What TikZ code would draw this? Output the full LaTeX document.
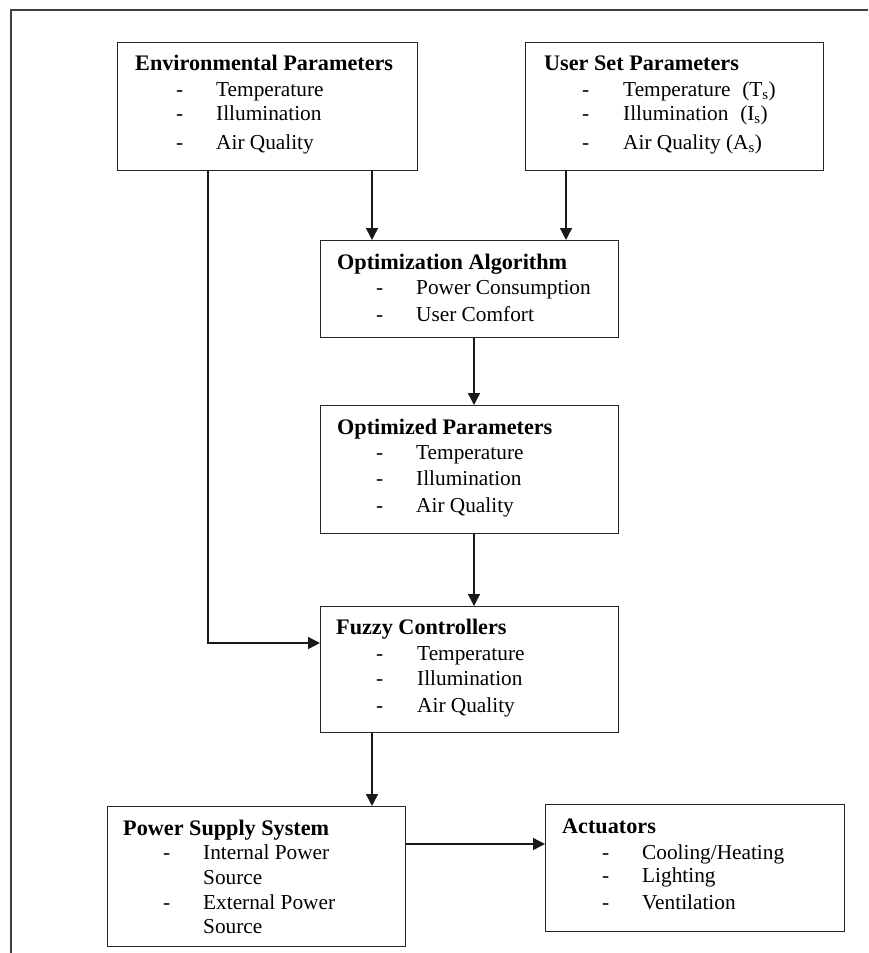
\documentclass[tikz,border=0pt]{standalone}
\usepackage{fontspec}
\setmainfont{Liberation Serif}
\usetikzlibrary{arrows.meta}
\tikzset{
  box/.style={draw=black!85, line width=1.4pt, anchor=north west, inner sep=0pt},
  txt/.style={anchor=base west, inner sep=0pt, font=\fontsize{21.3}{25}\selectfont, text=black},
  ttl/.style={txt, font=\fontsize{22.2}{26}\selectfont\bfseries},
  arr/.style={line width=1.4pt, draw=black!90, -{Triangle[length=12pt,width=12pt]}},
  frame/.style={line width=1.6pt, draw=black!75}
}
\begin{document}
\begin{tikzpicture}[x=1pt,y=-1pt]
\useasboundingbox (0,0) rectangle (868,953);
% outer frame
\coordinate (fa) at (868,10);
\coordinate (fb) at (11,10);
\coordinate (fc) at (11,953);
\draw[frame] (fa) -- (fb) -- (fc);

% boxes
\node[box, minimum width=300pt, minimum height=128pt] (env) at (117,42) {};
\node[box, minimum width=298pt, minimum height=128pt] (user) at (525,42) {};
\node[box, minimum width=298pt, minimum height=97pt] (opt) at (320,240) {};
\node[box, minimum width=298pt, minimum height=128pt] (optp) at (320,405) {};
\node[box, minimum width=298pt, minimum height=126pt] (fuzzy) at (320,606) {};
\node[box, minimum width=298pt, minimum height=140pt] (power) at (107,806) {};
\node[box, minimum width=299pt, minimum height=127pt] (act) at (545,804) {};

% Environmental Parameters
\node[ttl] (envt) at (135,70) {Environmental Parameters};
\node[txt] (envd1) at (176,96) {-};
\node[txt] (envi1) at (216,96) {Temperature};
\node[txt] (envd2) at (176,120) {-};
\node[txt] (envi2) at (216,120) {Illumination};
\node[txt] (envd3) at (176,149) {-};
\node[txt] (envi3) at (216,149) {Air Quality};

% User Set Parameters
\node[ttl] (usert) at (544,70) {User Set Parameters};
\node[txt] (userd1) at (582,96) {-};
\node[txt] (useri1) at (623,96) {Temperature\hspace{0.3em} (T\textsubscript{s})};
\node[txt] (userd2) at (582,120) {-};
\node[txt] (useri2) at (623,120) {Illumination\hspace{0.3em} (I\textsubscript{s})};
\node[txt] (userd3) at (582,149) {-};
\node[txt] (useri3) at (623,149) {Air Quality (A\textsubscript{s})};

% Optimization Algorithm
\node[ttl] (optt) at (337,269) {Optimization Algorithm};
\node[txt] (optd1) at (376,294) {-};
\node[txt] (opti1) at (416,294) {Power Consumption};
\node[txt] (optd2) at (376,321) {-};
\node[txt] (opti2) at (416,321) {User Comfort};

% Optimized Parameters
\node[ttl] (optpt) at (337,434) {Optimized Parameters};
\node[txt] (optpd1) at (376,459) {-};
\node[txt] (optpi1) at (416,459) {Temperature};
\node[txt] (optpd2) at (376,485) {-};
\node[txt] (optpi2) at (416,485) {Illumination};
\node[txt] (optpd3) at (376,512) {-};
\node[txt] (optpi3) at (416,512) {Air Quality};

% Fuzzy Controllers
\node[ttl] (fuzt) at (336,634) {Fuzzy Controllers};
\node[txt] (fuzd1) at (376,660) {-};
\node[txt] (fuzi1) at (417,660) {Temperature};
\node[txt] (fuzd2) at (376,685) {-};
\node[txt] (fuzi2) at (417,685) {Illumination};
\node[txt] (fuzd3) at (376,712) {-};
\node[txt] (fuzi3) at (417,712) {Air Quality};

% Power Supply System
\node[ttl] (powt) at (123,835) {Power Supply System};
\node[txt] (powd1) at (163,859) {-};
\node[txt] (powi1) at (203,859) {Internal Power};
\node[txt] (powi1b) at (203,884) {Source};
\node[txt] (powd2) at (163,909) {-};
\node[txt] (powi2) at (203,909) {External Power};
\node[txt] (powi2b) at (203,933) {Source};

% Actuators
\node[ttl] (actt) at (562,833) {Actuators};
\node[txt] (actd1) at (602,859) {-};
\node[txt] (acti1) at (642,859) {Cooling/Heating};
\node[txt] (actd2) at (602,882) {-};
\node[txt] (acti2) at (642,882) {Lighting};
\node[txt] (actd3) at (602,909) {-};
\node[txt] (acti3) at (642,909) {Ventilation};

% connectors
\coordinate (c1) at (372,0);
\coordinate (c2) at (566,0);
\coordinate (c3) at (474,0);
\coordinate (c4) at (208,643);
\coordinate (c5) at (372,0);
\coordinate (c6) at (0,844);
\draw[arr] (env.south -| c1) -- (opt.north -| c1);
\draw[arr] (user.south -| c2) -- (opt.north -| c2);
\draw[arr] (opt.south -| c3) -- (optp.north -| c3);
\draw[arr] (optp.south -| c3) -- (fuzzy.north -| c3);
\draw[arr] (env.south -| c4) |- (fuzzy.west |- c4);
\draw[arr] (fuzzy.south -| c5) -- (power.north -| c5);
\draw[arr] (power.east |- c6) -- (act.west |- c6);
\end{tikzpicture}
\end{document}
